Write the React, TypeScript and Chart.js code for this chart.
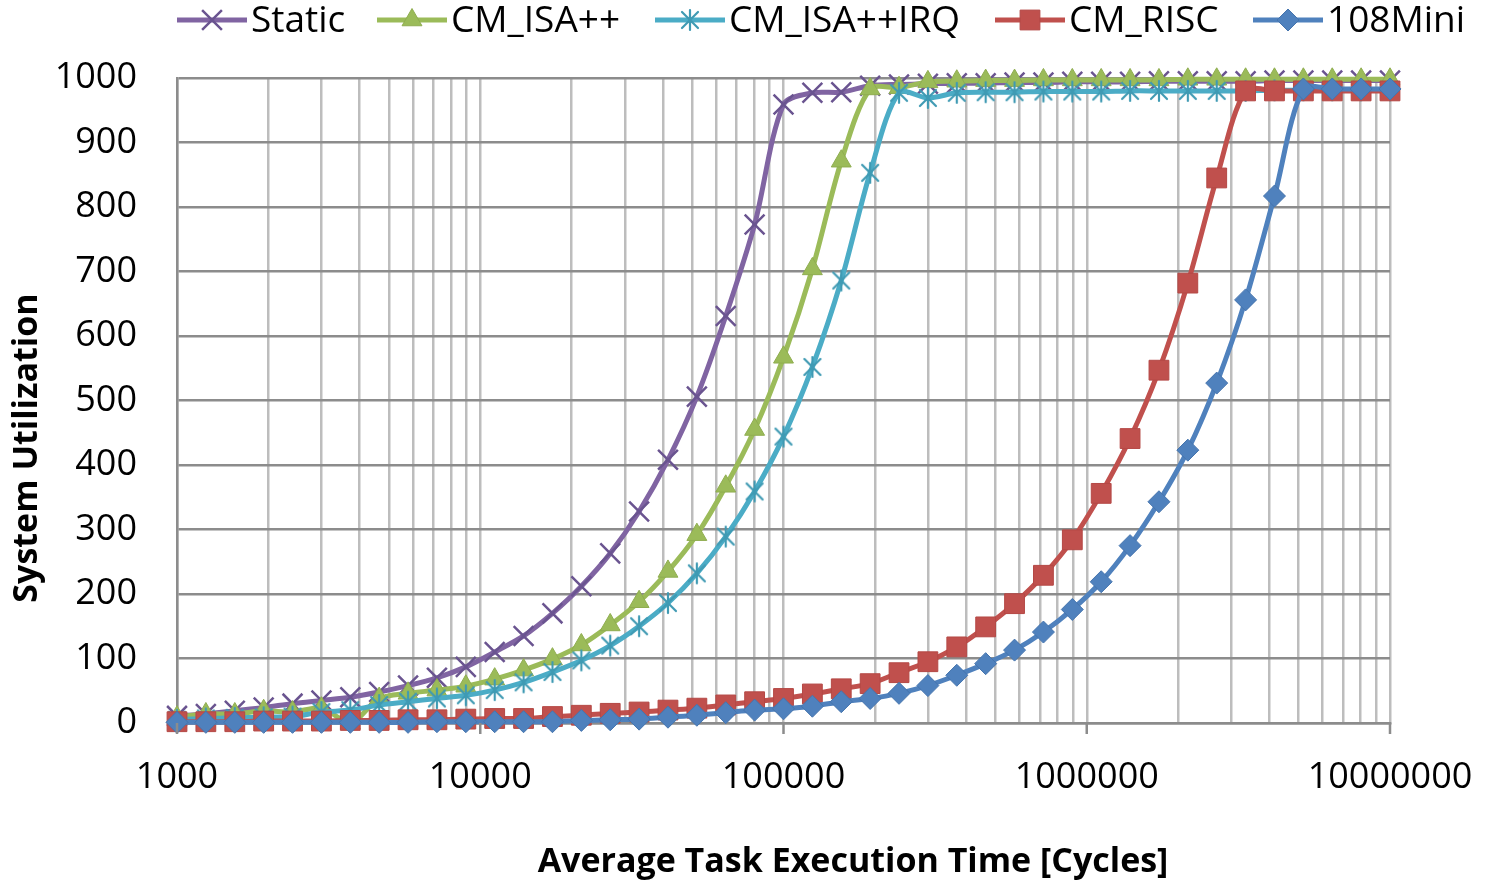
import React, { useEffect, useRef } from 'react';
import { Chart, registerables } from 'chart.js';

Chart.register(...registerables);

// ---------- data ----------
const xValues = [
  1000, 1245, 1551, 1931, 2404, 2994, 3728, 4642, 5780, 7197, 8962,
  11159, 13895, 17302, 21544, 26827, 33405, 41595, 51795, 64495, 80309,
  100000, 124520, 155052, 193070, 240413, 299358, 372759, 464159, 577969, 719686, 896151,
  1115884, 1389495, 1730203, 2154435, 2682696, 3340485, 4159519, 5179475, 6449466, 8030857,
  10000000,
];

const staticVals = [
  11, 14, 19, 24, 30, 35, 40, 48, 58, 70, 87,
  110, 135, 170, 212, 263, 328, 408, 506, 631, 773,
  959, 977, 978, 988, 990, 991, 992, 992, 993, 993, 994,
  994, 994, 995, 995, 995, 995, 996, 996, 996, 996,
  996,
];

const cmIsaVals = [
  9, 14, 14, 19, 17, 23, 0, 38, 46, 51, 57,
  68, 82, 99, 121, 152, 188, 235, 292, 367, 455,
  567, 704, 871, 983, 985, 994, 995, 996, 996, 997, 997,
  997, 997, 997, 998, 998, 998, 998, 998, 998, 998,
  998,
];

const cmIsaIrqVals = [
  5, 7, 8, 9, 10, 17, 20, 28, 33, 38, 43,
  51, 63, 79, 97, 120, 150, 186, 232, 289, 359,
  444, 552, 686, 853, 977, 969, 977, 978, 978, 979, 979,
  979, 980, 980, 980, 980, 980, 981, 981, 981, 981,
  981,
];

const cmRiscVals = [
  2, 2, 2, 3, 3, 3, 4, 4, 5, 5, 6,
  7, 7, 10, 12, 15, 17, 20, 23, 28, 33,
  38, 45, 53, 61, 78, 95, 118, 149, 185, 229, 284,
  356, 441, 547, 682, 845, 980, 980, 980, 980, 980,
  980,
];

const mini108Vals = [
  1, 1, 1, 1, 1, 1, 1, 1, 1, 2, 2,
  2, 2, 2, 4, 5, 6, 9, 12, 16, 20,
  22, 26, 33, 38, 46, 58, 74, 92, 113, 141, 176,
  219, 275, 343, 423, 527, 656, 817, 983, 983, 983,
  983,
];

const seriesLabels = ['Static', 'CM_ISA++', 'CM_ISA++IRQ', 'CM_RISC', '108Mini'];
const seriesColors = ['#8064a2', '#9bbb59', '#4bacc6', '#c0504d', '#4f81bd'];

const xDecades = [1000, 10000, 100000, 1000000, 10000000];
const xMinorMultipliers = [1, 2, 3, 4, 5, 6, 7, 8, 9];
const yMin = 0;
const yMax = 1000;
const yStep = 100;

const yTitle = 'System Utilization';
const xTitle = 'Average Task Execution Time [Cycles]';

// ---------- styles ----------
const FONT = '"Open Sans", "DejaVu Sans", sans-serif';
const TICK_FONT_SIZE = 36;
const TITLE_FONT_SIZE = 34;
const LEGEND_FONT_SIZE = 37;
const LINE_WIDTH = 5;
const legendItemStarts = [177, 377, 655, 995, 1253];

const markerRadius = [14, 11.5, 10, 14, 11];
const markerBorder = ['#6a5490', '#8fad50', '#3f9ab3', '#b44845', '#4574ad'];
const markerBorderWidth = [2.5, 1, 2, 1, 1];

function makeAsterisk(color: string): HTMLCanvasElement {
  const c = document.createElement('canvas');
  c.width = 24;
  c.height = 24;
  const g = c.getContext('2d')!;
  g.strokeStyle = color;
  g.lineWidth = 2.2;
  g.lineCap = 'round';
  g.beginPath();
  g.moveTo(12, 2);
  g.lineTo(12, 22);
  g.moveTo(4, 4);
  g.lineTo(20, 20);
  g.moveTo(20, 4);
  g.lineTo(4, 20);
  g.stroke();
  return c;
}

function drawLegendMarker(ctx: CanvasRenderingContext2D, i: number, x: number, y: number, star: HTMLCanvasElement) {
  const r = markerRadius[i];
  ctx.save();
  ctx.fillStyle = seriesColors[i];
  ctx.strokeStyle = markerBorder[i];
  ctx.lineWidth = markerBorderWidth[i];
  ctx.beginPath();
  if (i === 0) {
    const h = r * Math.SQRT1_2;
    ctx.moveTo(x - h, y - h);
    ctx.lineTo(x + h, y + h);
    ctx.moveTo(x + h, y - h);
    ctx.lineTo(x - h, y + h);
    ctx.stroke();
  } else if (i === 1) {
    for (let k = 0; k < 3; k++) {
      const a = -Math.PI / 2 + (k * 2 * Math.PI) / 3;
      const px = x + Math.cos(a) * r;
      const py = y + Math.sin(a) * r;
      if (k === 0) ctx.moveTo(px, py);
      else ctx.lineTo(px, py);
    }
    ctx.closePath();
    ctx.fill();
    ctx.stroke();
  } else if (i === 2) {
    ctx.drawImage(star, x - star.width / 2, y - star.height / 2);
  } else if (i === 3) {
    const s = r * Math.SQRT1_2;
    ctx.rect(x - s, y - s, 2 * s, 2 * s);
    ctx.fill();
    ctx.stroke();
  } else {
    ctx.moveTo(x - r, y);
    ctx.lineTo(x, y - r);
    ctx.lineTo(x + r, y);
    ctx.lineTo(x, y + r);
    ctx.closePath();
    ctx.fill();
    ctx.stroke();
  }
  ctx.restore();
}

export default function App() {
  const ref = useRef<HTMLCanvasElement>(null);

  useEffect(() => {
    const canvas = ref.current;
    if (!canvas) return;
    const star = makeAsterisk(markerBorder[2]);
    const seriesData = [staticVals, cmIsaVals, cmIsaIrqVals, cmRiscVals, mini108Vals];
    const markerStyles: any[] = ['crossRot', 'triangle', star, 'rect', 'rectRot'];

    const xGridTicks: number[] = [];
    xDecades.forEach((d, idx) => {
      if (idx === xDecades.length - 1) xGridTicks.push(d);
      else xMinorMultipliers.forEach((m) => xGridTicks.push(d * m));
    });
    const isDecade = (v: number) => xDecades.includes(v);

    const datasets = seriesLabels.map((label, i) => ({
      label,
      data: xValues.map((x, j) => ({ x, y: seriesData[i][j] })),
      borderColor: seriesColors[i],
      backgroundColor: seriesColors[i],
      borderWidth: LINE_WIDTH,
      tension: 0.3,
      pointStyle: markerStyles[i],
      pointRadius: markerRadius[i],
      pointHoverRadius: markerRadius[i],
      pointBackgroundColor: i === 0 ? 'rgba(0,0,0,0)' : seriesColors[i],
      pointBorderColor: markerBorder[i],
      pointBorderWidth: markerBorderWidth[i],
      clip: false as any,
      order: seriesLabels.length - i,
    }));

    const overlay = {
      id: 'overlay',
      afterDraw(chart: any) {
        const ctx: CanvasRenderingContext2D = chart.ctx;
        const area = chart.chartArea;
        ctx.save();
        // decade tick marks below the x axis
        ctx.strokeStyle = '#8c8c8c';
        ctx.lineWidth = 2.5;
        ctx.beginPath();
        xDecades.forEach((d) => {
          const px = chart.scales.x.getPixelForValue(d);
          ctx.moveTo(px, area.bottom);
          ctx.lineTo(px, area.bottom + 11);
        });
        ctx.stroke();
        // legend
        ctx.font = `${LEGEND_FONT_SIZE}px ${FONT}`;
        ctx.textBaseline = 'middle';
        ctx.textAlign = 'left';
        const cy = 20;
        seriesLabels.forEach((label, i) => {
          const x = legendItemStarts[i];
          const lw = 70;
          ctx.strokeStyle = seriesColors[i];
          ctx.lineWidth = LINE_WIDTH;
          ctx.beginPath();
          ctx.moveTo(x, cy);
          ctx.lineTo(x + lw, cy);
          ctx.stroke();
          drawLegendMarker(ctx, i, x + lw / 2, cy, star);
          ctx.fillStyle = '#000';
          ctx.fillText(label, x + lw + 4, cy + 1);
        });
        // axis titles
        ctx.font = `bold ${TITLE_FONT_SIZE}px ${FONT}`;
        ctx.fillStyle = '#000';
        ctx.textAlign = 'center';
        ctx.textBaseline = 'middle';
        ctx.fillText(xTitle, 853, 862);
        ctx.translate(27, 448);
        ctx.rotate(-Math.PI / 2);
        ctx.fillText(yTitle, 0, 0);
        ctx.restore();
      },
    };

    const chart = new Chart(canvas, {
      type: 'line',
      data: { datasets: datasets as any },
      options: {
        animation: false,
        responsive: false,
        layout: { padding: { left: 0, top: 78, right: 95, bottom: 0 } },
        plugins: {
          legend: { display: false },
          tooltip: { enabled: false },
        },
        scales: {
          x: {
            type: 'logarithmic',
            min: xDecades[0],
            max: xDecades[xDecades.length - 1],
            afterBuildTicks: (scale: any) => {
              scale.ticks = xGridTicks.map((v) => ({ value: v }));
            },
            afterFit: (scale: any) => {
              scale.height = 160;
            },
            ticks: {
              autoSkip: false,
              maxRotation: 0,
              minRotation: 0,
              padding: 1,
              color: '#000',
              font: { family: FONT, size: TICK_FONT_SIZE },
              callback: (v: any) => (isDecade(Number(v)) ? String(v) : ''),
            },
            grid: {
              color: '#bdbdbd',
              lineWidth: 2.5,
              drawTicks: true,
              tickLength: 32,
              tickColor: 'rgba(0,0,0,0)',
            },
            border: { color: '#8c8c8c', width: 2.5 },
          },
          y: {
            type: 'linear',
            min: yMin,
            max: yMax,
            afterFit: (scale: any) => {
              scale.width = 177;
            },
            ticks: {
              stepSize: yStep,
              padding: 40,
              color: '#000',
              font: { family: FONT, size: TICK_FONT_SIZE },
              callback: (v: any) => String(v),
            },
            grid: {
              color: '#8c8c8c',
              lineWidth: 2.5,
              drawTicks: false,
            },
            border: { color: '#8c8c8c', width: 2.5 },
          },
        },
      },
      plugins: [overlay],
    });

    return () => chart.destroy();
  }, []);

  return (
    <div style={{ position: 'fixed', left: 0, top: 0, width: 1485, height: 883, background: '#fff' }}>
      <canvas ref={ref} width={1485} height={883} style={{ display: 'block' }} />
    </div>
  );
}
